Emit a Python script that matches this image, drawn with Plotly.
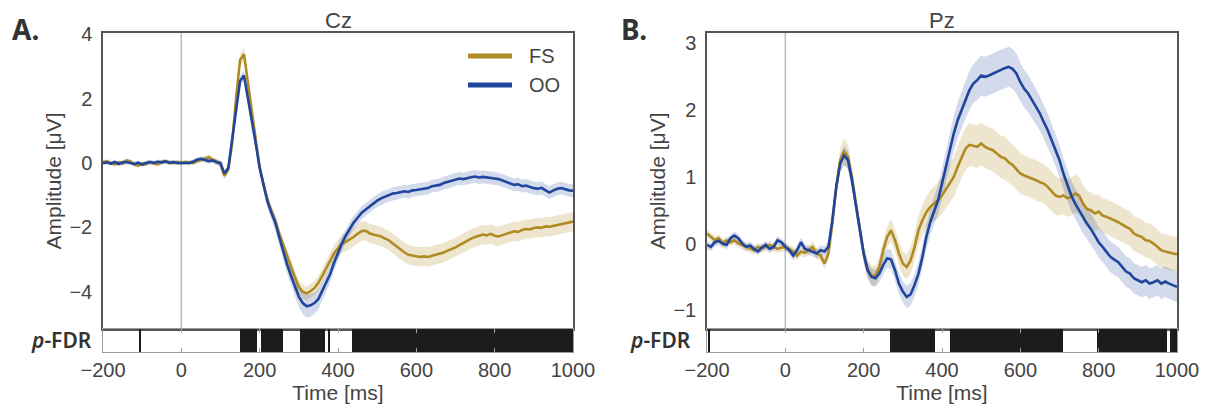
import plotly.graph_objects as go

# ---------------- data ----------------
time_ms = list(range(-200, 1001, 10))
series_names = ["FS", "OO"]
x_ticks = [-200, 0, 200, 400, 600, 800, 1000]
cz_yticks = [-4, -2, 0, 2, 4]
pz_yticks = [-1, 0, 1, 2, 3]

cz_fs = [0.02, 0.05, 0.00, -0.04, 0.02, -0.02, 0.08, 0.05, -0.05, -0.08,
         -0.02, -0.03, 0.02, 0.00, -0.04, 0.03, 0.05, 0.02, 0.00, 0.03,
         0.00, 0.03, 0.02, 0.00, 0.05, 0.10, 0.15, 0.18, 0.10, 0.05,
         -0.05, -0.40, -0.20, 0.65, 2.05, 3.20, 3.38, 2.50, 1.50, 0.60,
         -0.15, -0.70, -1.15, -1.50, -1.80, -2.20, -2.55, -2.90, -3.25, -3.55,
         -3.85, -4.00, -4.05, -3.98, -3.88, -3.72, -3.50, -3.25, -3.00, -2.80,
         -2.65, -2.50, -2.45, -2.38, -2.30, -2.20, -2.12, -2.10, -2.18, -2.22,
         -2.25, -2.28, -2.35, -2.40, -2.50, -2.60, -2.70, -2.78, -2.85, -2.88,
         -2.90, -2.92, -2.90, -2.92, -2.88, -2.85, -2.82, -2.78, -2.72, -2.68,
         -2.62, -2.55, -2.48, -2.42, -2.35, -2.30, -2.26, -2.22, -2.25, -2.20,
         -2.26, -2.28, -2.24, -2.20, -2.15, -2.12, -2.14, -2.08, -2.05, -2.06,
         -2.02, -2.00, -2.01, -1.97, -1.98, -1.95, -1.92, -1.90, -1.88, -1.85,
         -1.82]
cz_fs_se = [0.07, 0.07, 0.07, 0.07, 0.07, 0.07, 0.07, 0.07, 0.07, 0.07,
            0.07, 0.07, 0.07, 0.07, 0.07, 0.07, 0.07, 0.07, 0.07, 0.07,
            0.07, 0.07, 0.07, 0.07, 0.08, 0.08, 0.08, 0.09, 0.09, 0.09,
            0.10, 0.12, 0.12, 0.15, 0.18, 0.20, 0.20, 0.18, 0.16, 0.15,
            0.15, 0.15, 0.16, 0.17, 0.18, 0.19, 0.20, 0.20, 0.20, 0.21,
            0.21, 0.22, 0.22, 0.22, 0.22, 0.22, 0.23, 0.24, 0.25, 0.26,
            0.27, 0.28, 0.28, 0.29, 0.29, 0.30, 0.30, 0.30, 0.30, 0.30,
            0.30, 0.30, 0.30, 0.30, 0.30, 0.30, 0.30, 0.30, 0.30, 0.30,
            0.30, 0.30, 0.30, 0.30, 0.30, 0.30, 0.30, 0.30, 0.30, 0.30,
            0.30, 0.30, 0.30, 0.30, 0.30, 0.30, 0.30, 0.30, 0.30, 0.30,
            0.30, 0.30, 0.30, 0.30, 0.30, 0.30, 0.30, 0.30, 0.30, 0.30,
            0.30, 0.30, 0.30, 0.30, 0.30, 0.30, 0.30, 0.30, 0.30, 0.30,
            0.30]
cz_oo = [0.00, 0.02, -0.02, 0.03, -0.03, 0.02, 0.03, 0.00, -0.03, 0.01,
         -0.05, 0.00, 0.03, 0.00, 0.04, 0.02, 0.05, 0.00, 0.03, 0.00,
         0.00, 0.02, 0.00, 0.04, 0.10, 0.13, 0.10, 0.06, 0.08, 0.02,
         0.00, -0.33, -0.15, 0.75, 1.80, 2.55, 2.72, 2.05, 1.35, 0.60,
         -0.15, -0.70, -1.20, -1.55, -1.85, -2.30, -2.75, -3.15, -3.50, -3.82,
         -4.15, -4.35, -4.45, -4.42, -4.35, -4.22, -3.98, -3.72, -3.45, -3.10,
         -2.78, -2.50, -2.25, -2.05, -1.85, -1.70, -1.55, -1.45, -1.35, -1.25,
         -1.17, -1.10, -1.05, -1.00, -0.95, -0.93, -0.90, -0.88, -0.90, -0.85,
         -0.84, -0.82, -0.80, -0.78, -0.72, -0.70, -0.68, -0.62, -0.58, -0.55,
         -0.50, -0.48, -0.50, -0.46, -0.44, -0.42, -0.45, -0.43, -0.44, -0.47,
         -0.48, -0.50, -0.55, -0.60, -0.63, -0.68, -0.66, -0.72, -0.70, -0.75,
         -0.78, -0.80, -0.77, -0.85, -0.92, -0.85, -0.80, -0.78, -0.82, -0.85,
         -0.86]
cz_oo_se = [0.07, 0.07, 0.07, 0.07, 0.07, 0.07, 0.07, 0.07, 0.07, 0.07,
            0.07, 0.07, 0.07, 0.07, 0.07, 0.07, 0.07, 0.07, 0.07, 0.07,
            0.07, 0.07, 0.07, 0.07, 0.08, 0.08, 0.08, 0.08, 0.08, 0.08,
            0.09, 0.10, 0.10, 0.12, 0.14, 0.16, 0.16, 0.15, 0.14, 0.14,
            0.15, 0.16, 0.18, 0.20, 0.22, 0.24, 0.26, 0.28, 0.30, 0.32,
            0.33, 0.34, 0.35, 0.35, 0.34, 0.32, 0.30, 0.28, 0.26, 0.25,
            0.24, 0.23, 0.22, 0.22, 0.21, 0.21, 0.20, 0.20, 0.20, 0.20,
            0.20, 0.20, 0.20, 0.20, 0.20, 0.20, 0.20, 0.20, 0.20, 0.20,
            0.20, 0.20, 0.20, 0.20, 0.20, 0.20, 0.20, 0.20, 0.20, 0.20,
            0.20, 0.20, 0.20, 0.20, 0.20, 0.20, 0.20, 0.20, 0.20, 0.20,
            0.20, 0.20, 0.20, 0.20, 0.20, 0.20, 0.20, 0.20, 0.20, 0.20,
            0.20, 0.20, 0.20, 0.20, 0.20, 0.20, 0.20, 0.20, 0.20, 0.20,
            0.20]

pz_fs = [0.15, 0.10, 0.05, 0.08, 0.00, 0.05, 0.02, 0.05, 0.00, -0.02,
         -0.05, -0.08, -0.10, -0.05, -0.07, -0.05, -0.02, -0.05, -0.08, -0.06,
         -0.05, -0.08, -0.12, -0.18, -0.12, -0.14, -0.10, -0.05, -0.15, -0.18,
         -0.30, -0.15, 0.30, 0.85, 1.25, 1.38, 1.30, 1.00, 0.60, 0.20,
         -0.15, -0.38, -0.48, -0.48, -0.35, -0.10, 0.10, 0.20, 0.05, -0.15,
         -0.30, -0.35, -0.25, -0.05, 0.20, 0.35, 0.47, 0.55, 0.60, 0.65,
         0.72, 0.82, 0.92, 1.00, 1.15, 1.30, 1.42, 1.48, 1.47, 1.45,
         1.50, 1.45, 1.42, 1.40, 1.35, 1.30, 1.28, 1.22, 1.18, 1.12,
         1.05, 1.02, 1.00, 0.97, 0.95, 0.92, 0.90, 0.85, 0.78, 0.72,
         0.70, 0.72, 0.68, 0.70, 0.75, 0.72, 0.60, 0.52, 0.50, 0.45,
         0.48, 0.42, 0.40, 0.38, 0.35, 0.32, 0.28, 0.25, 0.22, 0.15,
         0.12, 0.10, 0.05, 0.04, 0.00, -0.05, -0.10, -0.12, -0.14, -0.15,
         -0.16]
pz_fs_se = [0.06, 0.06, 0.06, 0.06, 0.06, 0.06, 0.06, 0.06, 0.06, 0.06,
            0.06, 0.06, 0.06, 0.06, 0.06, 0.06, 0.06, 0.06, 0.06, 0.06,
            0.06, 0.06, 0.07, 0.07, 0.07, 0.07, 0.07, 0.08, 0.08, 0.08,
            0.08, 0.09, 0.12, 0.15, 0.18, 0.20, 0.18, 0.15, 0.14, 0.14,
            0.14, 0.14, 0.14, 0.15, 0.15, 0.15, 0.16, 0.17, 0.17, 0.18,
            0.18, 0.19, 0.20, 0.21, 0.22, 0.23, 0.24, 0.25, 0.26, 0.27,
            0.28, 0.29, 0.30, 0.30, 0.31, 0.31, 0.32, 0.32, 0.32, 0.32,
            0.32, 0.32, 0.32, 0.32, 0.32, 0.32, 0.32, 0.31, 0.31, 0.31,
            0.30, 0.30, 0.30, 0.30, 0.30, 0.30, 0.29, 0.29, 0.29, 0.29,
            0.28, 0.28, 0.28, 0.28, 0.28, 0.28, 0.27, 0.27, 0.27, 0.27,
            0.26, 0.26, 0.26, 0.26, 0.26, 0.26, 0.26, 0.26, 0.26, 0.26,
            0.26, 0.26, 0.26, 0.26, 0.26, 0.26, 0.26, 0.26, 0.26, 0.26,
            0.26]
pz_oo = [-0.02, -0.05, 0.02, 0.04, 0.00, -0.02, 0.08, 0.12, 0.08, 0.00,
         -0.05, -0.03, -0.08, -0.12, -0.06, -0.02, -0.08, -0.05, 0.05, 0.02,
         -0.05, -0.10, -0.18, -0.10, 0.02, -0.08, -0.10, -0.12, -0.15, -0.10,
         -0.12, -0.05, 0.35, 0.85, 1.20, 1.32, 1.25, 0.95, 0.60, 0.20,
         -0.15, -0.40, -0.50, -0.52, -0.45, -0.32, -0.22, -0.24, -0.40, -0.60,
         -0.72, -0.80, -0.76, -0.62, -0.45, -0.20, 0.10, 0.32, 0.50, 0.65,
         0.90, 1.15, 1.42, 1.65, 1.85, 2.00, 2.15, 2.30, 2.40, 2.45,
         2.52, 2.50, 2.52, 2.55, 2.58, 2.60, 2.63, 2.65, 2.62, 2.55,
         2.42, 2.32, 2.25, 2.15, 2.05, 1.95, 1.82, 1.70, 1.55, 1.40,
         1.25, 1.05, 0.88, 0.72, 0.60, 0.50, 0.38, 0.30, 0.22, 0.12,
         0.02, -0.05, -0.12, -0.20, -0.24, -0.28, -0.35, -0.42, -0.45, -0.52,
         -0.55, -0.58, -0.55, -0.60, -0.58, -0.55, -0.60, -0.57, -0.60, -0.63,
         -0.65]
pz_oo_se = [0.06, 0.06, 0.06, 0.06, 0.06, 0.06, 0.06, 0.06, 0.06, 0.06,
            0.06, 0.06, 0.06, 0.06, 0.06, 0.06, 0.06, 0.06, 0.06, 0.06,
            0.06, 0.06, 0.07, 0.07, 0.07, 0.07, 0.07, 0.07, 0.07, 0.07,
            0.08, 0.08, 0.10, 0.12, 0.13, 0.14, 0.14, 0.13, 0.12, 0.12,
            0.12, 0.12, 0.13, 0.13, 0.13, 0.14, 0.14, 0.15, 0.15, 0.16,
            0.16, 0.17, 0.17, 0.17, 0.18, 0.18, 0.19, 0.20, 0.21, 0.22,
            0.23, 0.24, 0.25, 0.26, 0.27, 0.28, 0.28, 0.29, 0.29, 0.30,
            0.30, 0.30, 0.30, 0.30, 0.30, 0.30, 0.30, 0.30, 0.30, 0.30,
            0.29, 0.28, 0.28, 0.27, 0.26, 0.26, 0.25, 0.25, 0.24, 0.24,
            0.23, 0.23, 0.23, 0.23, 0.23, 0.23, 0.23, 0.23, 0.23, 0.23,
            0.23, 0.23, 0.23, 0.23, 0.23, 0.23, 0.23, 0.23, 0.23, 0.23,
            0.23, 0.23, 0.23, 0.23, 0.23, 0.23, 0.23, 0.23, 0.23, 0.23,
            0.23]

# significant (p-FDR) time windows [start, end] in ms
cz_sig_start = [-108, 150, 203, 302, 376, 436]
cz_sig_end = [-105, 192, 260, 367, 380, 1000]
pz_sig_start = [-197, 268, 420, 797, 981]
pz_sig_end = [-193, 382, 710, 975, 1000]

# ---------------- styling ----------------
W, H = 1214, 410
FS_COL = "#b08a22"
OO_COL = "#1f459c"
FS_FILL = "rgba(176,138,34,0.22)"
OO_FILL = "rgba(31,69,156,0.20)"
TXT = "#444444"
FONT = "Liberation Sans"


def px(x):
    return x / W


def py(y):
    return 1 - y / H


left_dom = [px(103), px(573)]
right_dom = [px(707), px(1177)]
main_dom = [py(329), py(33)]
strip_dom = [py(352), py(329)]

fig = go.Figure()


def add_panel(xa, ya, fs, fs_se, oo, oo_se):
    for y, se, fill in ((fs, fs_se, FS_FILL), (oo, oo_se, OO_FILL)):
        up = [a + b for a, b in zip(y, se)]
        lo = [a - b for a, b in zip(y, se)]
        fig.add_trace(go.Scatter(x=time_ms + time_ms[::-1], y=up + lo[::-1],
                                 fill="toself", fillcolor=fill, mode="lines",
                                 line=dict(width=0), hoverinfo="skip",
                                 showlegend=False, xaxis=xa, yaxis=ya))
    for y, col, name in ((fs, FS_COL, series_names[0]), (oo, OO_COL, series_names[1])):
        fig.add_trace(go.Scatter(x=time_ms, y=y, mode="lines", name=name,
                                 line=dict(color=col, width=2.6),
                                 showlegend=False, xaxis=xa, yaxis=ya))


def add_sig(xa, ya, starts, ends):
    fig.add_trace(go.Bar(x=[(s + e) / 2 for s, e in zip(starts, ends)],
                         width=[e - s for s, e in zip(starts, ends)],
                         y=[1] * len(starts), base=0,
                         marker=dict(color="#1c1c1c", line=dict(width=0)),
                         showlegend=False, hoverinfo="skip",
                         xaxis=xa, yaxis=ya))


add_sig("x2", "y2", cz_sig_start, cz_sig_end)
add_sig("x4", "y4", pz_sig_start, pz_sig_end)
add_panel("x", "y", cz_fs, cz_fs_se, cz_oo, cz_oo_se)
add_panel("x3", "y3", pz_fs, pz_fs_se, pz_oo, pz_oo_se)

tickfont = dict(family=FONT, size=20, color=TXT)
titlefont = dict(family=FONT, size=21, color=TXT)


def main_x(dom, anchor):
    return dict(domain=dom, anchor=anchor, range=[-200, 1000], showticklabels=False,
                showline=True, mirror=True, linecolor="#555555", linewidth=1.5,
                ticks="", showgrid=False, zeroline=False, automargin=False)


def main_y(dom, anchor, rng, tv):
    return dict(domain=dom, anchor=anchor, range=rng, tickvals=tv,
                showline=True, mirror=True, linecolor="#555555", linewidth=1.5,
                ticks="", showgrid=False, zeroline=False, automargin=False,
                tickfont=tickfont, ticklabelstandoff=5,
                title=dict(text="Amplitude [μV]", font=titlefont, standoff=2))


def strip_x(dom, anchor):
    return dict(domain=dom, anchor=anchor, range=[-200, 1000], tickvals=x_ticks,
                showline=True, mirror="ticks", linecolor="#9a9a9a", linewidth=1.2,
                ticks="inside", ticklen=4, tickcolor="#a0a0a0", tickwidth=1,
                showgrid=False, zeroline=False, automargin=False,
                tickfont=tickfont, ticklabelstandoff=0,
                title=dict(text="Time [ms]", font=titlefont, standoff=2))


def strip_y(dom, anchor):
    return dict(domain=dom, anchor=anchor, range=[0, 1], showticklabels=False,
                showline=True, mirror=True, linecolor="#9a9a9a", linewidth=1.2,
                ticks="", showgrid=False, zeroline=False, automargin=False)


fig.update_layout(
    width=W, height=H, autosize=False,
    margin=dict(l=0, r=0, t=0, b=0),
    paper_bgcolor="white", plot_bgcolor="white",
    showlegend=False, bargap=0,
    xaxis=main_x(left_dom, "y"),
    yaxis=main_y(main_dom, "x", [-5.155, 4.037], cz_yticks),
    xaxis2=strip_x(left_dom, "y2"),
    yaxis2=strip_y(strip_dom, "x2"),
    xaxis3=main_x(right_dom, "y3"),
    yaxis3=main_y(main_dom, "x3", [-1.281, 3.157], pz_yticks),
    xaxis4=strip_x(right_dom, "y4"),
    yaxis4=strip_y(strip_dom, "x4"),
)

# stimulus onset lines
for xr, yr in (("x", "y domain"), ("x3", "y3 domain")):
    fig.add_shape(type="line", x0=0, x1=0, y0=0, y1=1, xref=xr, yref=yr,
                  line=dict(color="#a9bfcd", width=1.5), layer="below")

annos = []
# panel titles
for txt, dom in (("Cz", left_dom), ("Pz", right_dom)):
    annos.append(dict(text=txt, x=(dom[0] + dom[1]) / 2, y=py(20), xref="paper", yref="paper",
                      xanchor="center", yanchor="middle", showarrow=False,
                      font=dict(family=FONT, size=22, color=TXT)))
# panel letters
for txt, xx in (("A.", 10), ("B.", 619)):
    annos.append(dict(text="<b>" + txt + "</b>", x=px(xx), y=py(29), xref="paper", yref="paper",
                      xanchor="left", yanchor="middle", showarrow=False,
                      font=dict(family="Noto Sans", size=28, color="#333333")))
# p-FDR labels
for xx in (94, 693):
    annos.append(dict(text="<i>p</i>-FDR", x=px(xx), y=py(340), xref="paper", yref="paper",
                      xanchor="right", yanchor="middle", showarrow=False,
                      font=dict(family="Noto Sans", size=21, color="#333333", weight=600)))

# legend (inside Cz panel)
for name, col, yy in ((series_names[0], FS_COL, 56), (series_names[1], OO_COL, 85)):
    fig.add_shape(type="line", x0=px(468), x1=px(512), y0=py(yy), y1=py(yy),
                  xref="paper", yref="paper", line=dict(color=col, width=5))
    annos.append(dict(text=name, x=px(527), y=py(yy), xref="paper", yref="paper",
                      xanchor="left", yanchor="middle", showarrow=False,
                      font=dict(family=FONT, size=20, color=TXT)))

fig.update_layout(annotations=annos)
fig.write_html("out.html")
